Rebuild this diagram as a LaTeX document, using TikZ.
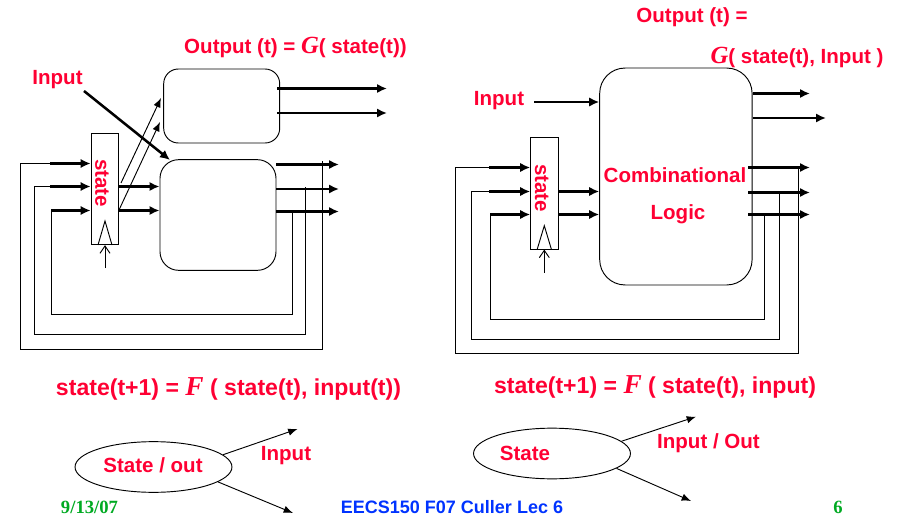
\documentclass[tikz,border=0pt]{standalone}
\usepackage{fontspec}
\setmainfont{Liberation Sans}
\newfontfamily\serifbold{Liberation Serif}
\usetikzlibrary{shapes.geometric, arrows.meta}
\definecolor{titlered}{RGB}{255,0,51}
\definecolor{footblue}{RGB}{0,51,255}
\definecolor{footgreen}{RGB}{0,170,34}
\newcommand{\fn}[1]{{\serifbold\bfseries\itshape\fontsize{18.5}{18.5}\selectfont #1}}
\newcommand{\fnbig}[1]{{\serifbold\bfseries\itshape\fontsize{20.5}{20.5}\selectfont #1}}
\tikzset{
  lab/.style={text=titlered, font=\bfseries\fontsize{15.4}{15.4}\selectfont, inner sep=0pt},
  eqn/.style={text=titlered, font=\bfseries\fontsize{17.3}{17.3}\selectfont, inner sep=0pt},
  foot/.style={font=\bfseries\fontsize{13.5}{13.5}\selectfont, inner sep=0pt},
  footdate/.style={font=\serifbold\bfseries\fontsize{14}{14}\selectfont, inner sep=0pt, text=footgreen},
  reg/.style={draw, line width=0.7pt, minimum width=20.6pt, minimum height=83.5pt, inner sep=0pt},
  logic/.style={draw, line width=0.7pt, inner sep=0pt},
  bubble/.style={draw, ellipse, line width=0.7pt, minimum width=117.7pt, minimum height=38pt, inner sep=0pt},
  bus/.style={line width=1.9pt, -{Latex[length=7.5pt,width=7pt]}},
  wire/.style={line width=0.7pt},
  thinarrow/.style={line width=0.7pt, -{Latex[length=7pt,width=5.5pt]}},
  clockarrow/.style={line width=0.7pt, -{Straight Barb[length=5.5pt,width=7.5pt]}},
}
\begin{document}
\begin{tikzpicture}[x=0.75pt, y=-0.75pt]
    \useasboundingbox (0,0) rectangle (901,517);

    % ---- machine de gauche
    \node[reg] (regL) at (104.8,189) {};
    \node[logic, minimum width=87pt, minimum height=55.5pt, rounded corners=11pt] (outL) at (221.7,106) {};
    \node[logic, minimum width=87pt, minimum height=83pt, rounded corners=14pt] (nextL) at (218,215) {};
    \node[lab, rotate=-90] (stateL) at (102,183) {state};
    \node[lab] (inputL) at (57.5,79.5) {Input};
    \node[lab] (titleL) at (295.5,47.5) {Output (t) = \fn{G}( state(t))};
    \coordinate (inLA) at (50,163.5);
    \coordinate (inLB) at (50,186.5);
    \coordinate (inLC) at (51,210.5);
    \coordinate (tapLA) at (322.5,161.5);
    \coordinate (tapLB) at (305.5,187.5);
    \coordinate (tapLC) at (292.5,211.5);

    % entrees et sorties
    \draw[bus] (inLA) -- (inLA -| regL.west);
    \draw[bus] (inLB) -- (inLB -| regL.west);
    \draw[bus] (inLC) -- (inLC -| regL.west);
    \draw[bus] (inLB -| regL.east) -- (inLB -| nextL.west);
    \draw[bus] (inLC -| regL.east) -- (inLC -| nextL.west);
    \coordinate (endLA) at (339,164.5);
    \coordinate (endLB) at (339,189);
    \coordinate (endLC) at (339,211.5);
    \draw[bus] (endLA -| nextL.east) -- (endLA);
    \draw[bus] (endLB -| nextL.east) -- (endLB);
    \draw[bus] (endLC -| nextL.east) -- (endLC);
    \coordinate (startLD) at (277,88.5);
    \coordinate (startLE) at (277,113);
    \coordinate (endLD) at (387,88.5);
    \coordinate (endLE) at (387,113);
    \draw[bus] (startLD) -- (endLD);
    \draw[bus] (startLE) -- (endLE);
    \coordinate (fromInL) at (84,91);
    \coordinate (toNextL) at (170,160);
    \draw[bus] (fromInL) -- (toNextL);

    % vers le bloc de sortie
    \coordinate (diagLA) at (121,183);
    \coordinate (diagLB) at (119,210);
    \coordinate (toOutLA) at (161,98);
    \coordinate (toOutLB) at (160,122);
    \draw[thinarrow] (diagLA) -- (toOutLA);
    \draw[thinarrow] (diagLB) -- (toOutLB);

    % horloge
    \coordinate (clkLA) at (98,245);
    \coordinate (clkLB) at (105,221);
    \coordinate (clkLC) at (112,245);
    \draw[wire] (clkLA) -- (clkLB) -- (clkLC);
    \coordinate (clkL) at (105,268);
    \draw[clockarrow] (clkL) -- (clkL |- regL.south);

    % retours
    \draw[wire] (inLA) -| (20.5,349.5) -| (tapLA);
    \draw[wire] (inLB) -| (34.5,334.5) -| (tapLB);
    \draw[wire] (inLC) |- (51,314.5) -| (tapLC);

    % ---- machine de droite
    \node[reg] (regR) at (544.4,193.4) {};
    \node[logic, minimum width=114.3pt, minimum height=162.7pt, rounded corners=19pt] (comb) at (675.9,176.5) {};
    \node[lab, rotate=-90] (stateR) at (541.7,188) {state};
    \node[lab] (combA) at (675,175) {Combinational};
    \node[lab] (combB) at (678,214) {Logic};
    \node[lab] (inputR) at (499,100.5) {Input};
    \node[lab] (titleRA) at (692,17.5) {Output (t) =};
    \node[lab] (titleRB) at (797,57.5) {\fn{G}( state(t), Input )};
    \coordinate (inRA) at (489,167.5);
    \coordinate (inRB) at (489,191.5);
    \coordinate (inRC) at (490,214.5);
    \coordinate (tapRA) at (798.5,166.5);
    \coordinate (tapRB) at (779.5,192.5);
    \coordinate (tapRC) at (764.5,214.5);

    % entrees et sorties
    \draw[bus] (inRA) -- (inRA -| regR.west);
    \draw[bus] (inRB) -- (inRB -| regR.west);
    \draw[bus] (inRC) -- (inRC -| regR.west);
    \draw[bus] (inRB -| regR.east) -- (inRB -| comb.west);
    \draw[bus] (inRC -| regR.east) -- (inRC -| comb.west);
    \coordinate (fromInR) at (534,102);
    \draw[bus] (fromInR) -- (fromInR -| comb.west);
    \coordinate (endRA) at (810,167.5);
    \coordinate (endRB) at (810,192.5);
    \coordinate (endRC) at (810,214.5);
    \coordinate (startRA) at (748,167.5);
    \coordinate (startRB) at (748,192.5);
    \coordinate (startRC) at (748,214.5);
    \draw[bus] (startRA) -- (endRA);
    \draw[bus] (startRB) -- (endRB);
    \draw[bus] (startRC) -- (endRC);
    \coordinate (endRD) at (810,93.5);
    \coordinate (endRE) at (826,118);
    \draw[bus] (endRD -| comb.east) -- (endRD);
    \draw[bus] (endRE -| comb.east) -- (endRE);

    % horloge
    \coordinate (clkRA) at (537.3,249);
    \coordinate (clkRB) at (544.3,225.7);
    \coordinate (clkRC) at (551.3,249);
    \draw[wire] (clkRA) -- (clkRB) -- (clkRC);
    \coordinate (clkR) at (544.3,272.7);
    \draw[clockarrow] (clkR) -- (clkR |- regR.south);

    % retours
    \draw[wire] (inRA) -| (455.5,353.5) -| (tapRA);
    \draw[wire] (inRB) -| (471.5,339.5) -| (tapRB);
    \draw[wire] (inRC) |- (490,319.5) -| (tapRC);

    % ---- equations
    \node[eqn] (eqL) at (228.5,389) {state(t+1) = \fnbig{F} ( state(t), input(t))};
    \node[eqn] (eqR) at (655,387) {state(t+1) = \fnbig{F} ( state(t), input)};

    % ---- diagrammes d'etats
    \node[bubble] (bubL) at (153.5,467) {};
    \node[bubble] (bubR) at (552,453.5) {};
    \node[lab] (bubLtxt) at (153,465) {State / out};
    \node[lab] (bubRtxt) at (525,453) {State};
    \node[lab] (arcL) at (286,456) {Input};
    \node[lab] (arcR) at (708.5,443) {Input / Out};
    \coordinate (arcLA) at (297.5,429);
    \coordinate (arcLB) at (293,513);
    \coordinate (arcRA) at (696,416.7);
    \coordinate (arcRB) at (691,501);
    \draw[thinarrow] (bubL.10) -- (arcLA);
    \draw[thinarrow] (bubL.-13) -- (arcLB);
    \draw[thinarrow] (bubR.10) -- (arcRA);
    \draw[thinarrow] (bubR.-13) -- (arcRB);

    % ---- pied de page
    \node[footdate] (date) at (89.5,507) {9/13/07};
    \node[foot, text=footblue] (course) at (452,507) {EECS150 F07 Culler Lec 6};
    \node[footdate] (page) at (838,507) {6};

\end{tikzpicture}
\end{document}
